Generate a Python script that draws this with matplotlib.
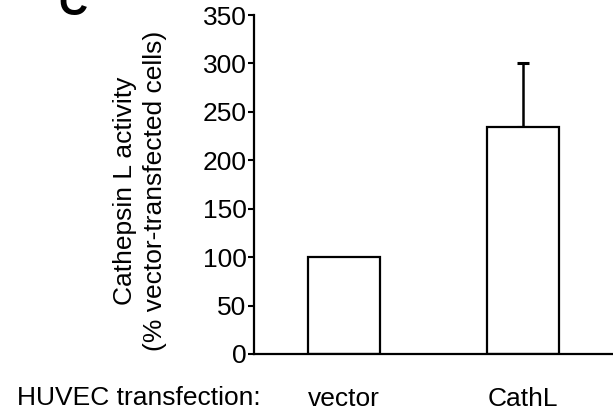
import matplotlib
matplotlib.use("Agg")
from matplotlib import pyplot as plt

categories = ["vector", "CathL"]
activity = [100, 234]
err_upper = [0, 66]
y_ticks = [0, 50, 100, 150, 200, 250, 300, 350]

plt.rcParams['font.family'] = ['Liberation Sans', 'DejaVu Sans']

fig = plt.figure(figsize=(6.13, 4.11), dpi=100)
ax = fig.add_axes([0.4144, 0.1387, 0.5856, 0.8248])

x = list(range(len(categories)))
ax.bar(x, activity, width=0.40, color='white', edgecolor='black', linewidth=1.6, zorder=2)

# only the CathL bar has an error bar (upward only)
ax.errorbar([x[1]], [activity[1]], yerr=[[0], [err_upper[1]]], fmt='none',
            ecolor='black', elinewidth=1.8, capsize=4, capthick=2.2, zorder=1)

ax.set_xlim(-0.5, 1.5)
ax.set_ylim(0, 350)
ax.set_yticks(y_ticks)
ax.set_yticklabels([str(t) for t in y_ticks], fontsize=19)
ax.set_xticks(x)
ax.set_xticklabels(categories, fontsize=19)
ax.tick_params(axis='x', length=0, pad=24)
ax.tick_params(axis='y', direction='out', length=4, width=1.5, pad=1.5)

for side in ['top', 'right']:
    ax.spines[side].set_visible(False)
ax.spines['left'].set_linewidth(1.6)
ax.spines['bottom'].set_linewidth(1.6)

fig.text(140 / 613, 1 - 191 / 411, "Cathepsin L activity\n(% vector-transfected cells)",
         fontsize=19, rotation=90, ha='center', va='center', linespacing=1.3)

fig.text(17 / 613, 1 - 405 / 411, "HUVEC transfection:", fontsize=19, ha='left', va='baseline')
fig.text(72.5 / 613, 1 - 15 / 411, "C", fontsize=29, fontweight='bold', ha='center', va='baseline')

fig.savefig("out.png", dpi=100)
